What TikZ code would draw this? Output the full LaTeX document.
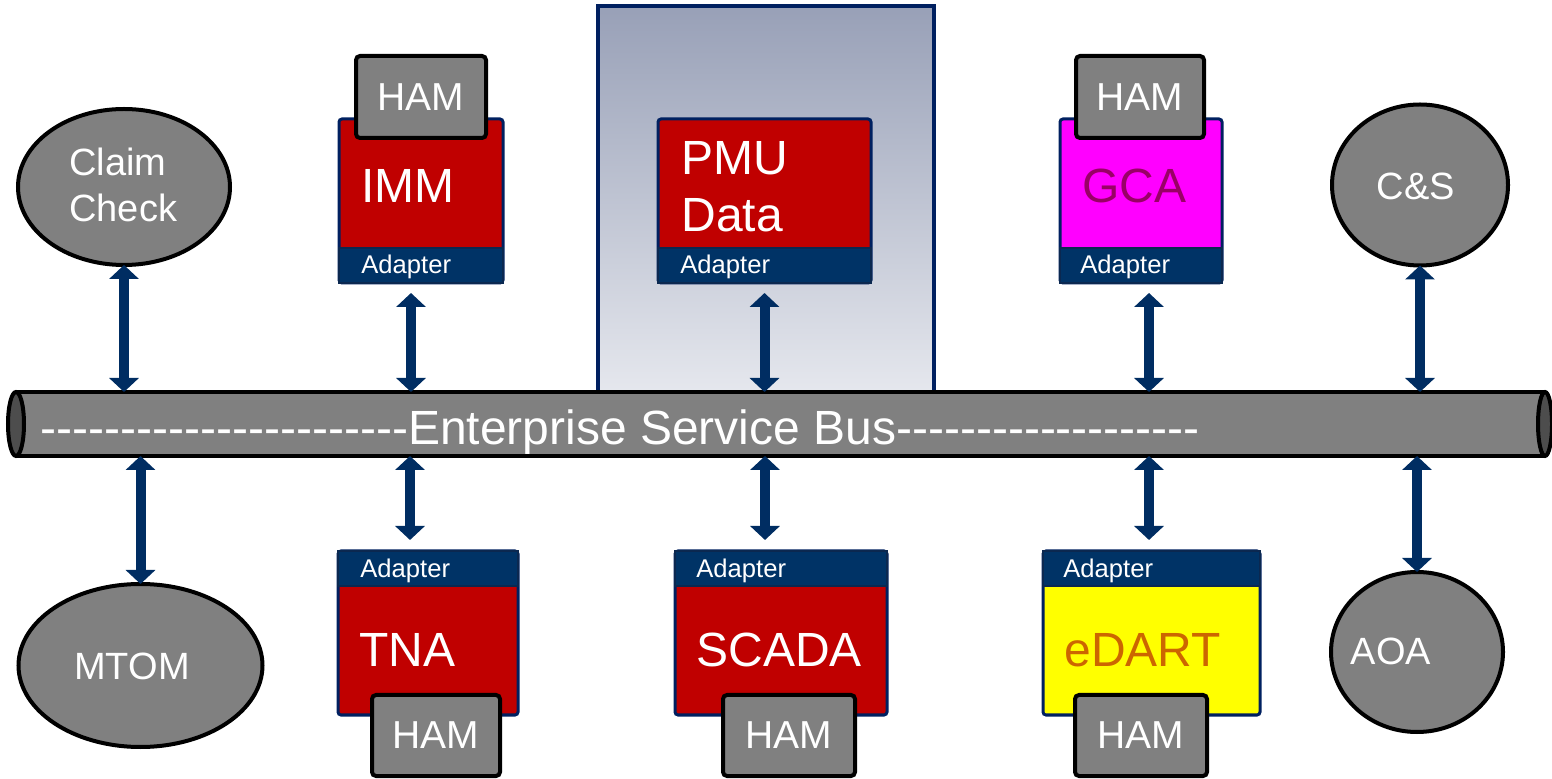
\documentclass[tikz,border=0pt]{standalone}
\usepackage{fontspec}
\setmainfont{Liberation Sans}
\usetikzlibrary{arrows.meta,shapes.geometric}

\definecolor{navy}{HTML}{002060}
\definecolor{adapterblue}{HTML}{003366}
\definecolor{adapteredge}{HTML}{0B2850}
\definecolor{appred}{HTML}{C00000}
\definecolor{appmagenta}{HTML}{FF00FF}
\definecolor{appyellow}{HTML}{FFFF00}
\definecolor{midgray}{HTML}{808080}
\definecolor{capgray}{HTML}{4D4D4D}
\definecolor{arrownavy}{HTML}{002D62}
\definecolor{gcatext}{HTML}{990066}
\definecolor{edarttext}{HTML}{CC6600}
\definecolor{zonetop}{HTML}{98A0B7}
\definecolor{zonebottom}{HTML}{E6E8EE}

% a run of hyphens kept apart so that no en/em dash ligature forms
\newcount\hyphencount
\newcommand\hyphenrun[1]{\hyphencount=0
  \loop\ifnum\hyphencount<#1 -\kern0pt\advance\hyphencount by 1 \repeat}

\begin{document}
\begin{tikzpicture}[x=0.5pt,y=-0.5pt,
  sz/.style 2 args={minimum width={#1*0.5pt},minimum height={#2*0.5pt}},
  appbox/.style={draw=navy,line width=1.5pt,rounded corners=1.5pt,inner sep=0pt,outer sep=0pt},
  adapterbar/.style={draw=adapteredge,fill=adapterblue,line width=1pt,inner sep=0pt,outer sep=0pt},
  hambox/.style={draw=black,fill=midgray,line width=2pt,rounded corners=2pt,inner sep=0pt,outer sep=0pt,
    text=white,font=\fontsize{19.5}{20}\selectfont},
  svc/.style={ellipse,draw=black,fill=midgray,line width=2pt,inner sep=0pt,outer sep=0pt},
  svctext/.style={text=white,inner sep=0pt,font=\fontsize{19}{22}\selectfont},
  bigtext/.style={anchor=base west,inner sep=0pt,font=\fontsize{24}{28}\selectfont},
  adtext/.style={anchor=base west,inner sep=0pt,text=white,font=\fontsize{12.8}{14}\selectfont},
  busarrow/.style={draw=arrownavy,line width=5pt,
    {Triangle[width=14.5pt,length=7pt]}-{Triangle[width=14.5pt,length=7pt]}},
]
\useasboundingbox (0,0) rectangle (1552,779);

% shaded enclosure behind the PMU data source
\node[sz={336}{390},draw=navy,line width=2pt,top color=zonetop,bottom color=zonebottom,
  inner sep=0pt,outer sep=0pt] (pmuzone) at (766,201) {};

% ---------- enterprise service bus ----------
\node[sz={1529}{64},inner sep=0pt,outer sep=0pt] (bus) at (780.5,424) {};
\fill[midgray] (bus.north west) rectangle (bus.south east);
\draw[line width=2pt] (bus.north west) -- (bus.north east) (bus.south west) -- (bus.south east);
\draw[line width=2pt,fill=capgray] (bus.west) ellipse [x radius=8,y radius=32];
\draw[line width=2pt,fill=capgray] (bus.east) ellipse [x radius=7,y radius=32];
\node[anchor=base west,inner sep=0pt,text=white,font=\fontsize{24}{28}\selectfont] (bustext)
  at (40,445) {\hyphenrun{23}Enterprise Service Bus\hyphenrun{19}};

% ---------- services (ellipses) ----------
\node[svc,sz={212}{156}] (claim) at (124,187) {};
\node[svctext,anchor=base west] (claim1) at (69,176) {Claim};
\node[svctext,anchor=base west] (claim2) at (69,222) {Check};

\node[svc,sz={176}{161}] (cs) at (1420,185) {};
\node[svctext] (cslabel) at (1416,186) {C\&S};

\node[svc,sz={244}{163}] (mtom) at (140.5,665.5) {};
\node[svctext] (mtomlabel) at (132,666) {MTOM};

\node[svc,sz={172}{160}] (aoa) at (1417,652) {};
\node[svctext] (aoalabel) at (1391,651) {AOA};

% ---------- applications above the bus ----------
\node[appbox,fill=appred,sz={164}{164}] (imm) at (421,201) {};
\node[adapterbar,sz={164}{35},anchor=south] (immad) at (imm.south) {};
\node[hambox,sz={130}{82}] (immham) at (421,97) {HAM};
\node[bigtext,text=white] (immlabel) at (361,203) {IMM};
\node[adtext] (immadlabel) at (361,274) {Adapter};

\node[appbox,fill=appred,sz={213}{164}] (pmu) at (764.5,201) {};
\node[adapterbar,sz={213}{35},anchor=south] (pmuad) at (pmu.south) {};
\node[bigtext,text=white] (pmulabel1) at (681,175) {PMU};
\node[bigtext,text=white] (pmulabel2) at (681,232) {Data};
\node[adtext] (pmuadlabel) at (680,274) {Adapter};

\node[appbox,fill=appmagenta,sz={162}{164}] (gca) at (1141,201) {};
\node[adapterbar,sz={162}{35},anchor=south] (gcaad) at (gca.south) {};
\node[hambox,sz={128}{82}] (gcaham) at (1140,97) {HAM};
\node[bigtext,text=gcatext] (gcalabel) at (1082,203) {GCA};
\node[adtext] (gcaadlabel) at (1080,274) {Adapter};

% ---------- applications below the bus ----------
\node[appbox,fill=appred,sz={180}{164}] (tna) at (428,633) {};
\node[adapterbar,sz={180}{35},anchor=north] (tnaad) at (tna.north) {};
\node[hambox,sz={128}{81}] (tnaham) at (436,735.5) {HAM};
\node[bigtext,text=white] (tnalabel) at (359,667) {TNA};
\node[adtext] (tnaadlabel) at (360,578) {Adapter};

\node[appbox,fill=appred,sz={212}{164}] (scada) at (781,633) {};
\node[adapterbar,sz={212}{35},anchor=north] (scadaad) at (scada.north) {};
\node[hambox,sz={132}{81}] (scadaham) at (789,735.5) {HAM};
\node[bigtext,text=white] (scadalabel) at (696,667) {SCADA};
\node[adtext] (scadaadlabel) at (696,578) {Adapter};

\node[appbox,fill=appyellow,sz={217}{164}] (edart) at (1151.5,633) {};
\node[adapterbar,sz={217}{35},anchor=north] (edartad) at (edart.north) {};
\node[hambox,sz={132}{81}] (edartham) at (1141,735.5) {HAM};
\node[bigtext,text=edarttext] (edartlabel) at (1064,667) {eDART};
\node[adtext] (edartadlabel) at (1063,578) {Adapter};

% ---------- links to the bus ----------
\draw[busarrow] (claim.south) -- (claim.south |- bus.north);
\draw[busarrow,shorten <=5pt] ([xshift=-5pt]immad.south) -- ([xshift=-5pt]immad.south |- bus.north);
\draw[busarrow,shorten <=5pt] (pmuad.south) -- (pmuad.south |- bus.north);
\draw[busarrow,shorten <=5pt] ([xshift=4pt]gcaad.south) -- ([xshift=4pt]gcaad.south |- bus.north);
\draw[busarrow] (cs.south) -- (cs.south |- bus.north);

\draw[busarrow] (mtom.north |- bus.south) -- (mtom.north);
\draw[busarrow,shorten >=5.5pt] ([xshift=-9pt]tnaad.north |- bus.south) -- ([xshift=-9pt]tnaad.north);
\draw[busarrow,shorten >=5.5pt] ([xshift=-8pt]scadaad.north |- bus.south) -- ([xshift=-8pt]scadaad.north);
\draw[busarrow,shorten >=5.5pt] ([xshift=-1.25pt]edartad.north |- bus.south) -- ([xshift=-1.25pt]edartad.north);
\draw[busarrow] (aoa.north |- bus.south) -- (aoa.north);
\end{tikzpicture}
\end{document}
